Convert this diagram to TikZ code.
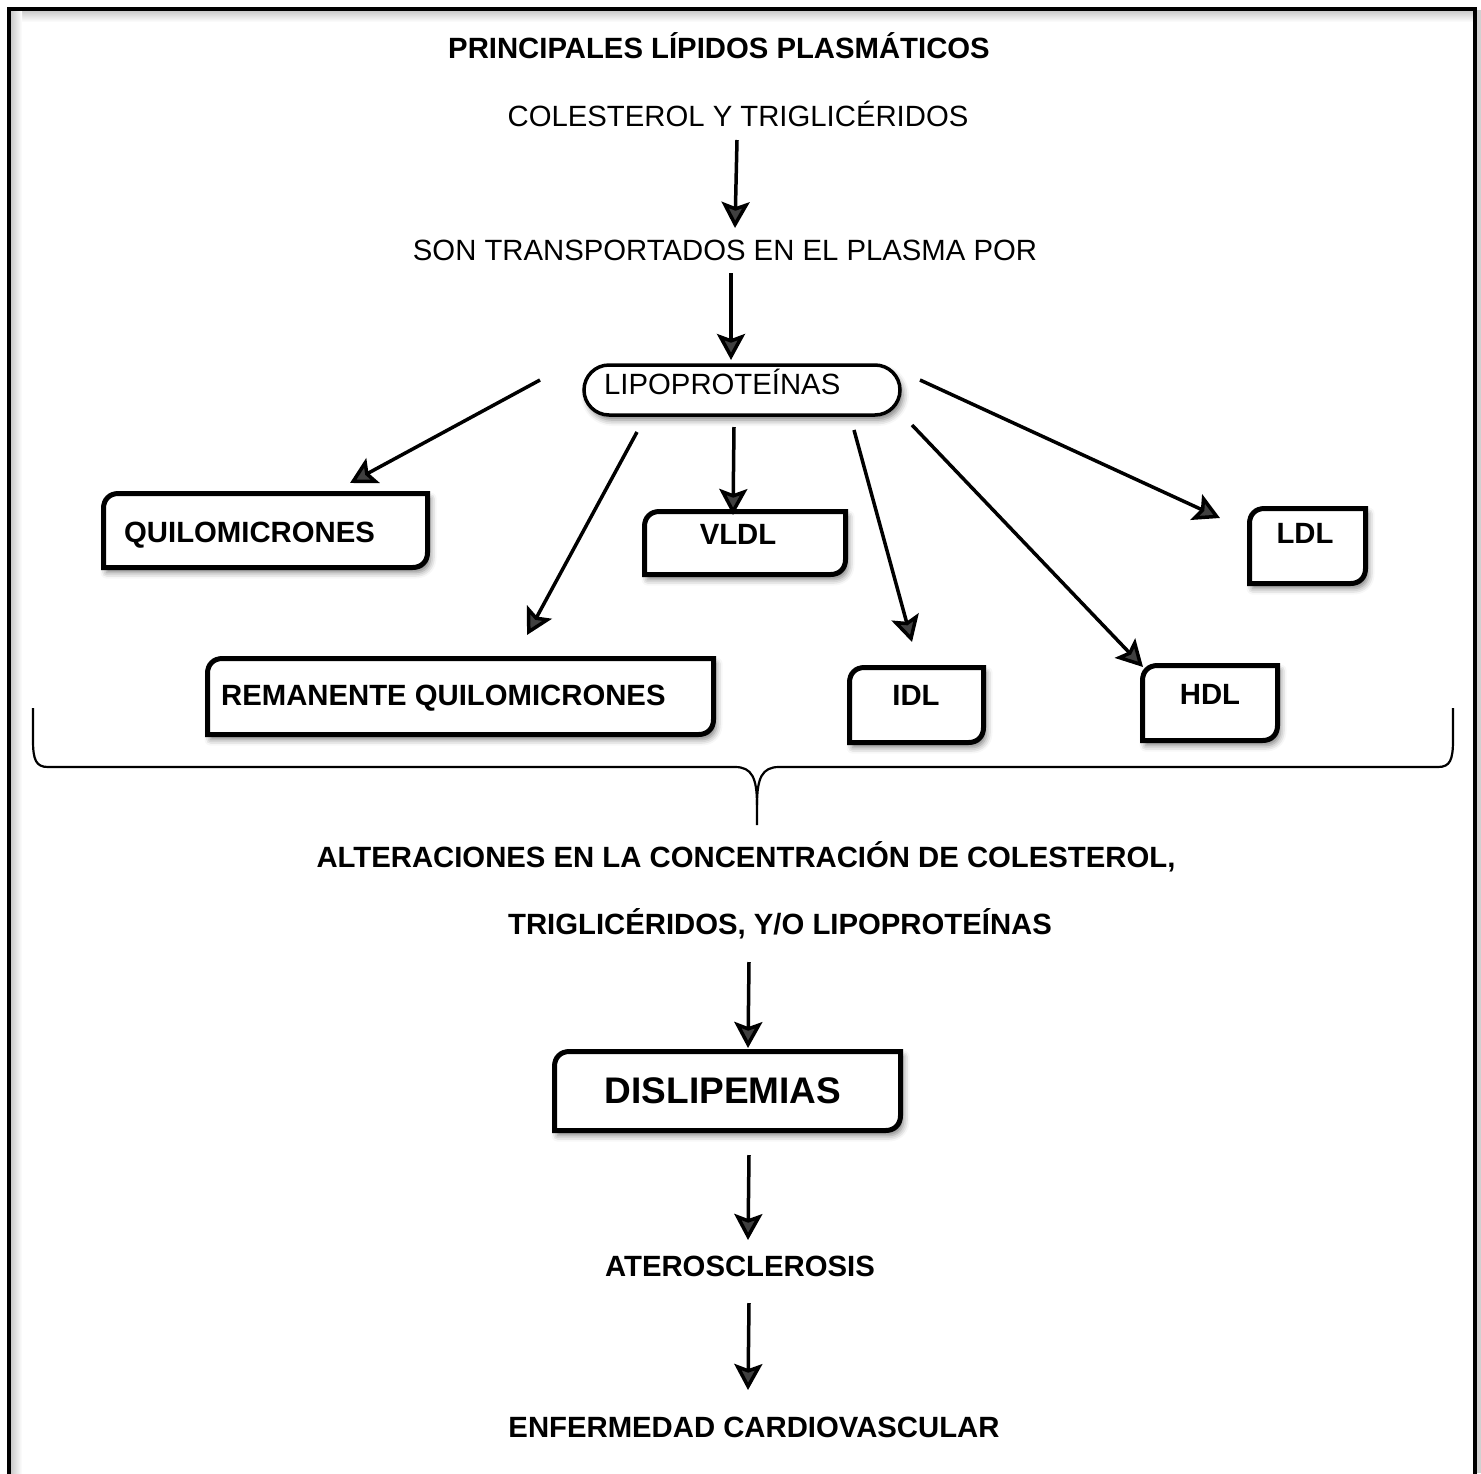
\documentclass[tikz,border=0pt]{standalone}
\usepackage{fontspec}
\setmainfont{Liberation Sans}
\usetikzlibrary{arrows.meta,shadows.blur,calc}
\tikzset{
 txt/.style={inner sep=0pt, anchor=base, font=\fontsize{29.3}{34}\selectfont},
 btxt/.style={txt, font=\fontsize{29.3}{34}\selectfont\bfseries},
 boxline/.style={line width=5pt, fill=white, blur shadow={shadow xshift=3pt,shadow yshift=-5pt,shadow blur radius=6pt,shadow opacity=50}},
 pill/.style={line width=3.5pt, rounded corners=25pt, blur shadow={shadow xshift=3pt,shadow yshift=-5pt,shadow blur radius=6pt,shadow opacity=50}},
 arr/.style={line width=3.5pt, -{Stealth[length=26pt,width=28pt,inset=5pt]}},
 bracel/.style={line width=2.2pt},
}
\newcommand\rbox[5]{% name x1 y1 x2 y2
 \draw[boxline] (#2,#5) -- (#2,#3+15) .. controls (#2,#3+6) and (#2+6,#3) .. (#2+15,#3) -- (#4,#3) -- (#4,#5-15) .. controls (#4,#5-6) and (#4-6,#5) .. (#4-15,#5) -- cycle;
 \coordinate (#1) at ({(#2+#4)/2},{(#3+#5)/2});
}
\begin{document}
\begin{tikzpicture}[x=1pt,y=-1pt]
\useasboundingbox (0,0) rectangle (1481,1473);
% outer frame
\shade[top color=black!22, bottom color=white] (10,10) rectangle (1475,22);
\shade[left color=black!22, right color=white] (10,10) rectangle (22,1473);
\fill[black!18] (1477,10) rectangle (1481,1473);
\draw[line width=4pt] (8.5,1490) -- (8.5,8.5) -- (1475,8.5) -- (1475,1490);

% boxes
\rbox{bquilo}{103.5}{493.5}{427.5}{567.5}
\rbox{bvldl}{644.5}{511.5}{845.5}{574.5}
\rbox{bldl}{1249.5}{508.5}{1365.5}{583.5}
\rbox{brem}{207.5}{658.5}{713.5}{734.5}
\rbox{bidl}{849.5}{667.5}{983.5}{742.5}
\rbox{bhdl}{1142.5}{665.5}{1277.5}{740.5}
\rbox{bdisl}{554.5}{1051.5}{900.5}{1130.5}
\draw[pill, fill=white] (584,365) rectangle (900,415);

% texts
\node[btxt] (t1) at (719,58) {PRINCIPALES LÍPIDOS PLASMÁTICOS};
\node[txt] (t2) at (738,126) {COLESTEROL Y TRIGLICÉRIDOS};
\node[txt] (t3) at (725,260) {SON TRANSPORTADOS EN EL PLASMA POR};
\node[txt, anchor=base west] (lip) at (604,394) {LIPOPROTEÍNAS};
\node[btxt, anchor=base west] (quilo) at (124,542) {QUILOMICRONES};
\node[btxt] (vldl) at (738,544) {VLDL};
\node[btxt] (ldl) at (1305,543) {LDL};
\node[btxt, anchor=base west] (rem) at (221,705) {REMANENTE QUILOMICRONES};
\node[btxt] (idl) at (916,705) {IDL};
\node[btxt] (hdl) at (1210,704) {HDL};
\node[btxt] (alt1) at (746,867) {ALTERACIONES EN LA CONCENTRACIÓN DE COLESTEROL,};
\node[btxt] (alt2) at (780,934) {TRIGLICÉRIDOS, Y/O LIPOPROTEÍNAS};
\node[txt, font=\fontsize{37}{42}\selectfont\bfseries] (disl) at (723,1103) {DISLIPEMIAS};
\node[btxt] (ater) at (740,1276) {ATEROSCLEROSIS};
\node[btxt] (enf) at (754,1437) {ENFERMEDAD CARDIOVASCULAR};

% brace
\coordinate (brL) at (33,708);
\coordinate (brR) at (1453,708);
\coordinate (brM) at (757,825);
\draw[bracel] (brL) -- (33,740) .. controls (33,760) and (36,767) .. (48,767) -- (735,767) .. controls (752,767) and (757,778) .. (757,805) -- (brM);
\draw[bracel] (757,805) .. controls (757,778) and (762,767) .. (779,767) -- (1438,767) .. controls (1450,767) and (1453,760) .. (1453,740) -- (brR);

% arrow end points
\coordinate (a1s) at (737,140); \coordinate (a1e) at (735,228);
\coordinate (a2s) at (731,273); \coordinate (a2e) at (731,360);
\coordinate (a3s) at (540,380); \coordinate (a3e) at (350,483);
\coordinate (a4s) at (637,432); \coordinate (a4e) at (527,635);
\coordinate (a5s) at (734,427); \coordinate (a5e) at (733,515);
\coordinate (a6s) at (854,430); \coordinate (a6e) at (912,642);
\coordinate (a7s) at (912,425); \coordinate (a7e) at (1143,667);
\coordinate (a8s) at (920,380); \coordinate (a8e) at (1220,518);
\coordinate (a9s) at (749,962); \coordinate (a9e) at (748,1048);
\coordinate (a10s) at (749,1155); \coordinate (a10e) at (748,1240);
\coordinate (a11s) at (749,1303); \coordinate (a11e) at (748,1390);
\foreach \i in {1,...,11} {\draw[arr] (a\i s) -- (a\i e);}
\end{tikzpicture}
\end{document}
